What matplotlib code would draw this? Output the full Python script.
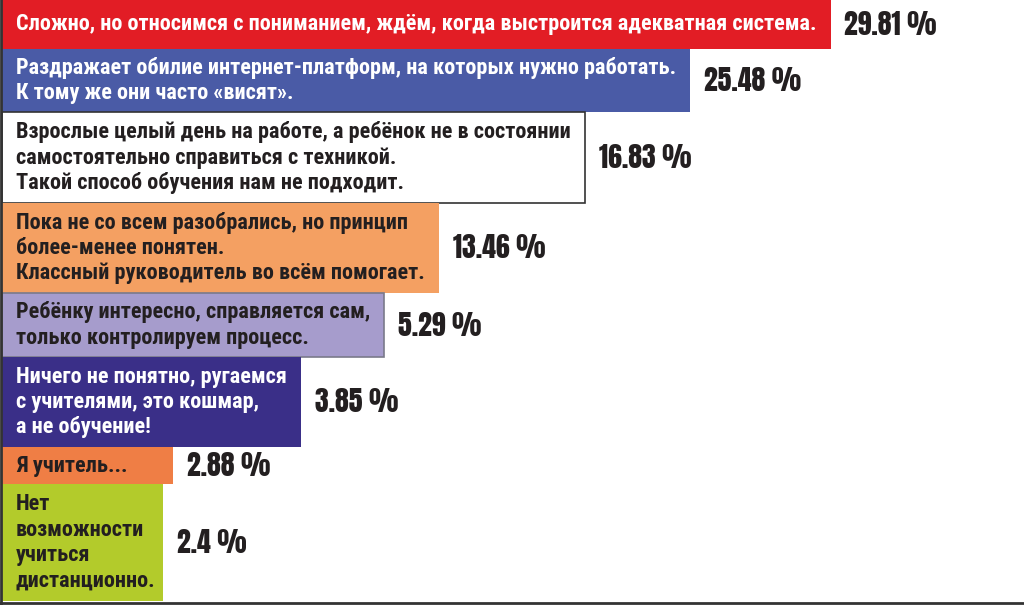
import matplotlib
matplotlib.use("Agg")
import matplotlib.pyplot as plt

# survey answers, top to bottom
labels = [
    "Сложно, но относимся с пониманием, ждём, когда выстроится адекватная система.",
    "Раздражает обилие интернет-платформ, на которых нужно работать.\nК тому же они часто «висят».",
    "Взрослые целый день на работе, а ребёнок не в состоянии\nсамостоятельно справиться с техникой.\nТакой способ обучения нам не подходит.",
    "Пока не со всем разобрались, но принцип\nболее-менее понятен.\nКлассный руководитель во всём помогает.",
    "Ребёнку интересно, справляется сам,\nтолько контролируем процесс.",
    "Ничего не понятно, ругаемся\nс учителями, это кошмар,\nа не обучение!",
    "Я учитель...",
    "Нет\nвозможности\nучиться\nдистанционно.",
]
values = [29.81, 25.48, 16.83, 13.46, 5.29, 3.85, 2.88, 2.4]

bar_colors = ["#E21D25", "#4A5BA6", "#FFFFFF", "#F4A062",
              "#A69CCC", "#3A2F88", "#EF7E45", "#B3CB2B"]
text_colors = ["white", "white", "#231F20", "#231F20",
               "#231F20", "white", "#231F20", "#231F20"]

W, H = 1024, 605
LABEL_FONT = ["Roboto Condensed", "Archivo Narrow", "DejaVu Sans"]
VALUE_FONT = ["Anton", "Roboto Condensed", "DejaVu Sans"]

fig = plt.figure(figsize=(W / 100, H / 100), dpi=100)
ax = fig.add_axes([0, 0, 1, 1])
ax.set_xlim(0, W)
ax.set_ylim(H, 0)
fig.canvas.draw()
renderer = fig.canvas.get_renderer()

# row heights follow the number of text lines; the leading row gets extra room
pad_y, line_px, lead_extra = 10, 26.8, 12
heights = [pad_y + line_px * (lab.count("\n") + 1) for lab in labels]
heights[0] += lead_extra
tops = [sum(heights[:i]) for i in range(len(heights))]
centers = [t + h / 2 for t, h in zip(tops, heights)]

# labels inside the bars, measured so bars can wrap them
x0, pad_x = 2, 14
label_w = []
for lab, yc, tc in zip(labels, centers, text_colors):
    t = ax.text(x0 + pad_x, yc, lab, color=tc, fontsize=16, fontweight="bold",
                family=LABEL_FONT, ha="left", va="center", linespacing=1.2,
                zorder=3)
    label_w.append(t.get_window_extent(renderer).width)

widths = [w + 2 * pad_x for w in label_w]
widths[-1] -= 7
for i in range(len(widths) - 2, -1, -1):
    widths[i] = max(widths[i], widths[i + 1] + 10)

edge = ["none", "none", "#333333", "none", "#7A7A8A", "none", "none", "none"]
ax.barh(centers, widths, height=heights, left=x0, color=bar_colors,
        edgecolor=edge, linewidth=1.2, zorder=2)

for v, yc, w in zip(values, centers, widths):
    ax.text(x0 + w + 14, yc, f"{v:g} %", color="#231F20", fontsize=20,
            family=VALUE_FONT, ha="left", va="center", zorder=3)

for side in ["top", "right"]:
    ax.spines[side].set_visible(False)
ax.spines["left"].set_position(("data", 1))
ax.spines["bottom"].set_position(("data", H - 2))
ax.spines["left"].set_color("#333333")
ax.spines["bottom"].set_color("#333333")
ax.spines["left"].set_linewidth(2)
ax.spines["bottom"].set_linewidth(2)
ax.set_xticks([])
ax.set_yticks([])

fig.savefig("out.png", dpi=100)
